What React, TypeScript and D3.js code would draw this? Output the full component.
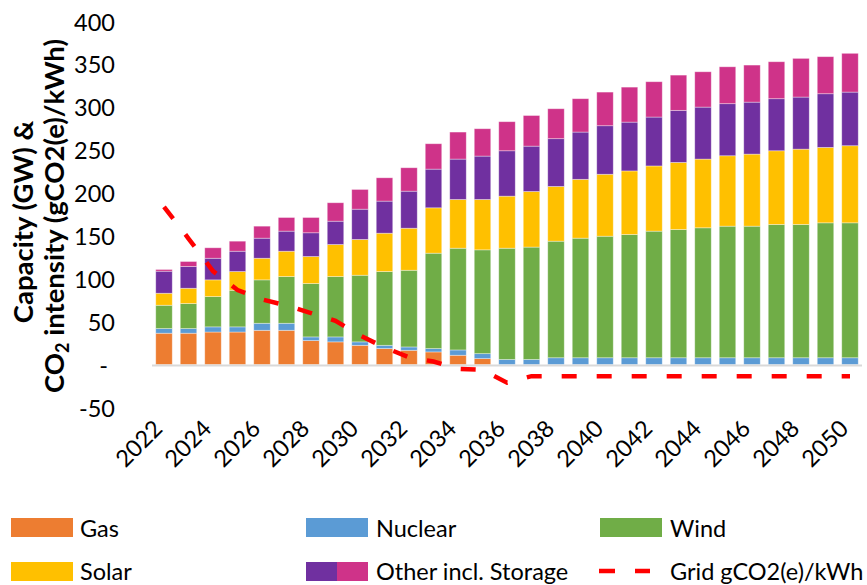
import React from 'react';
import * as d3 from 'd3';

const years = [2022, 2023, 2024, 2025, 2026, 2027, 2028, 2029, 2030, 2031, 2032, 2033, 2034, 2035, 2036, 2037, 2038, 2039, 2040, 2041, 2042, 2043, 2044, 2045, 2046, 2047, 2048, 2049, 2050];
const gas = [36.6, 36.6, 38, 38, 40, 40, 28, 26.5, 22.5, 18.7, 16.7, 14.8, 10.9, 7, 0, 0, 0, 0, 0, 0, 0, 0, 0, 0, 0, 0, 0, 0, 0];
const nuclear = [5.4, 5.4, 6, 6, 8.2, 8.2, 4.3, 5.8, 4, 3.8, 3.9, 3.9, 6.2, 5.8, 6, 6, 8, 8, 8, 8, 8, 8, 8, 8, 8, 8, 8, 8, 8];
const wind = [27.2, 29.2, 35.3, 42.7, 50.6, 54.5, 62.2, 70.4, 77.7, 86, 89.4, 111.2, 118.6, 121, 129.7, 131, 135.9, 139.4, 141.7, 143.7, 147.6, 149.5, 151.5, 153.4, 153.4, 155.4, 155.4, 157.3, 157.3];
const solar = [14, 17.8, 19.5, 21.8, 25.2, 29.5, 31.5, 37.3, 41.7, 44.7, 49, 52.9, 56.8, 58.7, 60.7, 64.8, 63.8, 68.6, 72.2, 74.1, 76, 78.2, 80.1, 82.1, 84, 85.9, 87.8, 87.9, 89.9];
const otherStorage = [25.7, 25.4, 25.2, 23.7, 23.4, 23.4, 27.7, 27.2, 35.3, 37.4, 43.2, 45.1, 47.1, 50.6, 52.9, 52.9, 55.7, 55.1, 56.6, 56.9, 57, 60.7, 60.6, 60.7, 60.6, 60.7, 60.7, 62.6, 62.5];
const otherIncl = [2, 5.8, 12.2, 11.7, 14, 15.9, 17.8, 21.5, 23, 27.2, 27.3, 29.6, 31.5, 31.9, 33.9, 35.7, 34.9, 38.9, 39.2, 40.8, 41.2, 41.1, 41.2, 43, 43.2, 43.1, 45.1, 43.2, 45.2];
const gridIntensity = [184, 147, 109, 87, 76, 69, 60, 51, 34, 20, 8.5, 3.6, -5, -6, -21, -13.5, -13.5, -13.5, -13.5, -13.5, -13.5, -13.5, -13.5, -13.5, -13.5, -13.5, -13.5, -13.5, -13.5];

const yTicks = [-50, 0, 50, 100, 150, 200, 250, 300, 350, 400];
const xTickYears = [2022, 2024, 2026, 2028, 2030, 2032, 2034, 2036, 2038, 2040, 2042, 2044, 2046, 2048, 2050];

const seriesKeys = ['gas', 'nuclear', 'wind', 'solar', 'otherStorage', 'otherIncl'];
const seriesColors: Record<string, string> = {
  gas: '#ED7D31',
  nuclear: '#5B9BD5',
  wind: '#70AD47',
  solar: '#FFC000',
  otherStorage: '#7030A0',
  otherIncl: '#CF3389',
};

const FONT = 'Lato, "Liberation Sans", sans-serif';

export default function App() {
  const W = 867;
  const H = 585;
  const x = d3.scalePoint<number>().domain(years).range([164, 850]);
  const y = d3.scaleLinear().domain([-50, 400]).range([407.5, 21.5]);
  const barW = 16.5;

  const rows = years.map((yr, i) => ({
    year: yr,
    gas: gas[i],
    nuclear: nuclear[i],
    wind: wind[i],
    solar: solar[i],
    otherStorage: otherStorage[i],
    otherIncl: otherIncl[i],
  }));
  const stacked = d3.stack<any>().keys(seriesKeys)(rows);

  const line = d3
    .line<number>()
    .x((_, i) => x(years[i]) as number)
    .y((d) => y(d));

  const legendRow1 = 527.5;
  const legendRow2 = 570.5;
  const legendFont = 23.5;

  return (
    <svg width={W} height={H} style={{ position: 'absolute', left: 0, top: 0, background: '#fff' }} fontFamily={FONT}>
      <rect x={0} y={0} width={W} height={H} fill="#fff" />
      {/* bars */}
      {stacked.map((s) => (
        <g key={s.key} fill={seriesColors[s.key]}>
          {s.map((d, i) => {
            const h = y(d[0]) - y(d[1]);
            if (h <= 0.01) return null;
            return (
              <rect
                key={i}
                x={(x(years[i]) as number) - barW / 2}
                y={y(d[1])}
                width={barW}
                height={h}
                stroke="#ffffff"
                strokeOpacity={0.45}
                strokeWidth={0.8}
              />
            );
          })}
        </g>
      ))}
      {/* zero axis line */}
      <line x1={152} x2={862} y1={y(0) + 1} y2={y(0) + 1} stroke="#d9d9d9" strokeWidth={2} />
      {/* grid intensity line */}
      <path d={line(gridIntensity) || ''} fill="none" stroke="#FF0000" strokeWidth={4.5} strokeDasharray="15 20" />
      {/* y ticks */}
      {yTicks.map((t) => (
        <text
          key={t}
          x={t === 0 ? 108 : 115}
          y={y(t)}
          textAnchor="end"
          dominantBaseline="central"
          fontSize={23.5}
          fill="#000"
        >
          {t === 0 ? '-' : String(t)}
        </text>
      ))}
      {/* x ticks */}
      {xTickYears.map((yr) => {
        const cx = x(yr) as number;
        return (
          <text
            key={yr}
            transform={`translate(${cx},${430}) rotate(-45)`}
            textAnchor="end"
            fontSize={23.5}
            fill="#000"
          >
            {String(yr)}
          </text>
        );
      })}
      {/* y title */}
      <text transform="translate(33,222) rotate(-90)" textAnchor="middle" fontSize={27.5} fontWeight="bold" fill="#000">
        Capacity (GW) &amp;
      </text>
      <text transform="translate(64,216) rotate(-90)" textAnchor="middle" fontSize={27.5} fontWeight="bold" fill="#000">
        CO<tspan fontSize={18} dy={5}>2</tspan>
        <tspan dy={-5}> intensity (gCO2(e)/kWh)</tspan>
      </text>
      {/* legend */}
      <rect x={11} y={518} width={62} height={19} fill={seriesColors.gas} />
      <text x={80} y={legendRow1} dominantBaseline="central" fontSize={legendFont}>Gas</text>
      <rect x={306} y={518} width={62} height={19} fill={seriesColors.nuclear} />
      <text x={376} y={legendRow1} dominantBaseline="central" fontSize={legendFont}>Nuclear</text>
      <rect x={600} y={518} width={62} height={19} fill={seriesColors.wind} />
      <text x={670} y={legendRow1} dominantBaseline="central" fontSize={legendFont}>Wind</text>

      <rect x={11} y={562} width={62} height={19} fill={seriesColors.solar} />
      <text x={80} y={legendRow2} dominantBaseline="central" fontSize={legendFont}>Solar</text>
      <rect x={306} y={562} width={31} height={19} fill={seriesColors.otherStorage} />
      <rect x={337} y={562} width={31} height={19} fill={seriesColors.otherIncl} />
      <text x={376} y={legendRow2} dominantBaseline="central" fontSize={legendFont}>Other incl. Storage</text>
      <line x1={599} x2={650} y1={571} y2={571} stroke="#FF0000" strokeWidth={4.5} strokeDasharray="16 20" />
      <text x={670} y={legendRow2} dominantBaseline="central" fontSize={legendFont}>Grid gCO2(e)/kWh</text>
    </svg>
  );
}
